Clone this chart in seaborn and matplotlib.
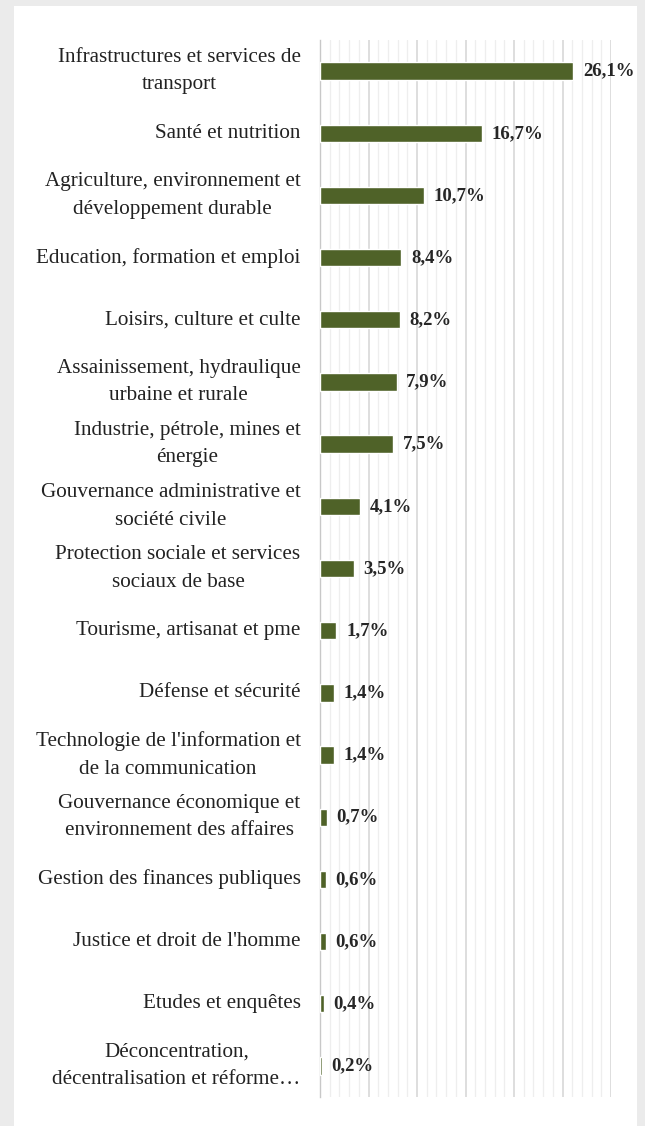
import matplotlib
matplotlib.use("Agg")
import matplotlib.pyplot as plt
import matplotlib.patches as mpatches
from matplotlib.transforms import ScaledTranslation
from matplotlib.ticker import MultipleLocator, FixedLocator
import seaborn as sns
import pandas as pd

# --- data ---
categories = [
    "Infrastructures et services de\ntransport",
    "Santé et nutrition",
    "Agriculture, environnement et\ndéveloppement durable",
    "Education, formation et emploi",
    "Loisirs, culture et culte",
    "Assainissement, hydraulique\nurbaine et rurale",
    "Industrie, pétrole, mines et\nénergie",
    "Gouvernance administrative et\nsociété civile",
    "Protection sociale et services\nsociaux de base",
    "Tourisme, artisanat et pme",
    "Défense et sécurité",
    "Technologie de l'information et\nde la communication",
    "Gouvernance économique et\nenvironnement des affaires",
    "Gestion des finances publiques",
    "Justice et droit de l'homme",
    "Etudes et enquêtes",
    "Déconcentration,\ndécentralisation et réforme…",
]
shares = [26.1, 16.7, 10.7, 8.4, 8.2, 7.9, 7.5, 4.1, 3.5, 1.7, 1.4, 1.4, 0.7, 0.6, 0.6, 0.4, 0.2]

bar_color = "#4f6228"
font = ["Liberation Serif", "DejaVu Serif"]

df = pd.DataFrame({"cat": categories, "val": shares})

sns.set_style("white")
plt.rcParams["font.family"] = font

W, H = 645, 1126
fig = plt.figure(figsize=(W / 100, H / 100), dpi=100)
fig.patch.set_facecolor("#ebebeb")
# white chart panel
fig.patches.append(mpatches.Rectangle((14 / W, 0), (637 - 14) / W, (H - 6) / H,
                                      transform=fig.transFigure, facecolor="white",
                                      edgecolor="none", zorder=-10))

ax = fig.add_axes([320 / W, 1 - 1097 / H, (611 - 320) / W, (1097 - 40) / H])
ax.set_facecolor("none")

sns.barplot(data=df, y="cat", x="val", orient="h", color=bar_color,
            width=0.28, saturation=1, ax=ax, zorder=3)

ax.set_xlim(0, 30)
ax.set_ylim(len(categories) - 0.5, -0.5)
ax.xaxis.set_major_locator(MultipleLocator(5))
ax.xaxis.set_minor_locator(MultipleLocator(1))
ax.grid(which="major", axis="x", color="#d4d4d4", linewidth=1.1, zorder=0)
ax.grid(which="minor", axis="x", color="#eeeeee", linewidth=0.9, zorder=0)
ax.tick_params(axis="x", which="both", length=0, labelbottom=False)

ax.set_yticks(range(len(categories)))
ax.set_yticklabels(categories, fontsize=15.2, color="#222222",
                   multialignment="center", linespacing=1.6)
# nudge labels a couple of pixels down so they sit level with the bars
shift = ScaledTranslation(0, -2.5 / 100, fig.dpi_scale_trans)
for lbl in ax.get_yticklabels():
    lbl.set_verticalalignment("center")
    lbl.set_transform(lbl.get_transform() + shift)
ax.tick_params(axis="y", which="major", length=0, pad=14)
ax.yaxis.set_minor_locator(FixedLocator([i - 0.5 for i in range(len(categories) + 1)]))
ax.tick_params(axis="y", which="minor", length=5, color="#c8c8c8", width=1)

ax.set_xlabel("")
ax.set_ylabel("")
for s in ["top", "right", "bottom"]:
    ax.spines[s].set_visible(False)
ax.spines["left"].set_color("#c8c8c8")
ax.spines["left"].set_linewidth(1)

for i, v in enumerate(shares):
    ax.annotate(f"{v:.1f}%".replace(".", ","), xy=(v, i), xytext=(7, 0),
                textcoords="offset points", va="center", ha="left",
                fontsize=13.5, fontweight="bold", color="#262626")

fig.savefig("out.png", dpi=100, facecolor=fig.get_facecolor())
